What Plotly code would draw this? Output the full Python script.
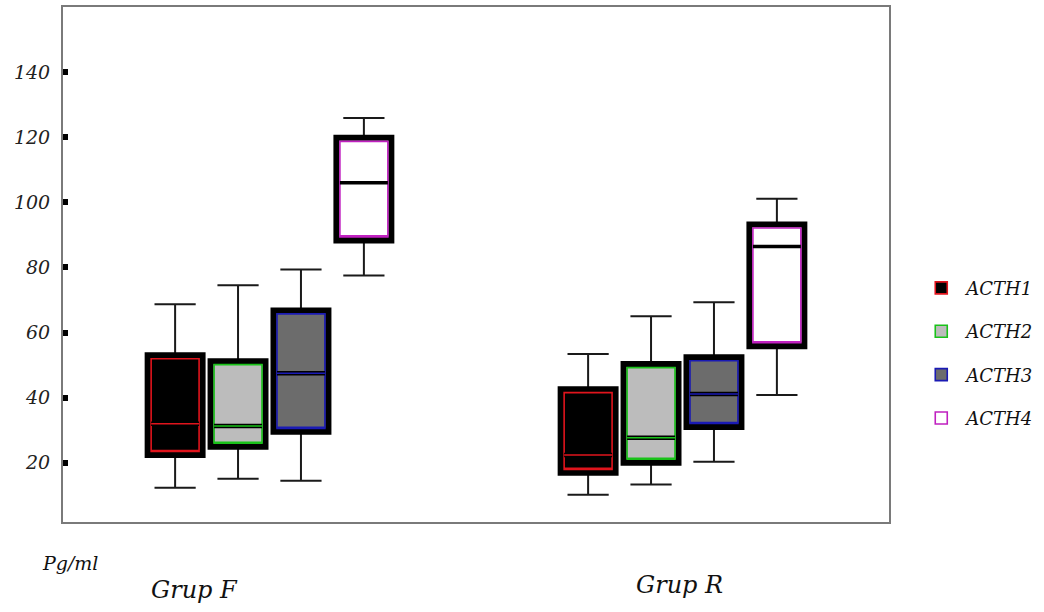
import plotly.graph_objects as go

groups = ["Grup F", "Grup R"]
series = ["ACTH1", "ACTH2", "ACTH3", "ACTH4"]

lower = {"ACTH1": [12.3, 10.2], "ACTH2": [15.1, 13.3], "ACTH3": [14.5, 20.3], "ACTH4": [77.5, 40.8]}
q1 = {"ACTH1": [22.4, 16.9], "ACTH2": [24.9, 20.0], "ACTH3": [29.5, 31.0], "ACTH4": [88.3, 55.8]}
median = {"ACTH1": [32.0, 22.4], "ACTH2": [31.3, 27.7], "ACTH3": [47.5, 41.1], "ACTH4": [106.0, 86.4]}
q3 = {"ACTH1": [53.0, 42.6], "ACTH2": [51.2, 50.3], "ACTH3": [66.8, 52.4], "ACTH4": [119.8, 93.2]}
upper = {"ACTH1": [68.7, 53.4], "ACTH2": [74.5, 65.0], "ACTH3": [79.4, 69.3], "ACTH4": [125.9, 101.1]}

y_ticks = [20, 40, 60, 80, 100, 120, 140]

fills = {"ACTH1": "#000000", "ACTH2": "#bcbcbc", "ACTH3": "#6c6c6c", "ACTH4": "#ffffff"}
edges = {"ACTH1": "#e0141c", "ACTH2": "#19c219", "ACTH3": "#1a1ab4", "ACTH4": "#c020c0"}
colored_median = {"ACTH1": True, "ACTH2": True, "ACTH3": True, "ACTH4": False}

# ---- layout geometry ----
W, H = 1044, 612
ML, MR, MT, MB = 63, 154, 5, 90
PW, PH = W - ML - MR, H - MT - MB
XR = [-0.5, 1.5]
YR = [1.8, 160]
ux = (XR[1] - XR[0]) / PW          # data units per px (x)
uy = (YR[1] - YR[0]) / PH          # data units per px (y)

slot = 63 * ux                     # spacing between boxes in a group
box_w = 55 * ux                    # box path width
inset_px = 3.5
inner_w = box_w - 2 * inset_px * ux
dy = inset_px * uy

serif = "DejaVu Serif"
fig = go.Figure()


def positions(k):
    off = (k - (len(series) - 1) / 2) * slot
    return [i + off for i in range(len(groups))]


for k, s in enumerate(series):
    xs = positions(k)
    # whiskers (thin black)
    fig.add_trace(go.Box(
        x=xs, q1=q1[s], median=median[s], q3=q3[s],
        lowerfence=lower[s], upperfence=upper[s],
        width=box_w, name=s, showlegend=False,
        line=dict(color="#1a1a1a", width=2), fillcolor="rgba(0,0,0,0)",
        whiskerwidth=0.75, hoverinfo="skip",
    ))

for k, s in enumerate(series):
    xs = positions(k)
    # thick black box outline with fill
    fig.add_trace(go.Box(
        x=xs, q1=q1[s], median=q1[s], q3=q3[s],
        lowerfence=q1[s], upperfence=q3[s],
        width=box_w, name=s, showlegend=False,
        line=dict(color="#000000", width=6), fillcolor=fills[s],
        whiskerwidth=0, hoverinfo="skip",
    ))

for k, s in enumerate(series):
    xs = positions(k)
    iq1 = [v + dy for v in q1[s]]
    iq3 = [v - dy for v in q3[s]]
    # coloured inner outline (legend entry)
    fig.add_trace(go.Box(
        x=xs, q1=iq1, median=iq1, q3=iq3,
        lowerfence=iq1, upperfence=iq3,
        width=inner_w, name=s, showlegend=True, legendgroup=s,
        line=dict(color=edges[s], width=1.6), fillcolor=fills[s],
        whiskerwidth=0,
    ))

for k, s in enumerate(series):
    xs = positions(k)
    # black median band
    fig.add_trace(go.Box(
        x=xs, q1=median[s], median=median[s], q3=median[s],
        lowerfence=median[s], upperfence=median[s],
        width=inner_w, name=s, showlegend=False,
        line=dict(color="#000000", width=4.5 if colored_median[s] else 3.5),
        fillcolor="rgba(0,0,0,0)", whiskerwidth=0, hoverinfo="skip",
    ))
    if colored_median[s]:
        fig.add_trace(go.Box(
            x=xs, q1=median[s], median=median[s], q3=median[s],
            lowerfence=median[s], upperfence=median[s],
            width=inner_w, name=s, showlegend=False,
            line=dict(color=edges[s], width=1.5),
            fillcolor="rgba(0,0,0,0)", whiskerwidth=0, hoverinfo="skip",
        ))

fig.update_layout(
    width=W, height=H,
    margin=dict(l=ML, r=MR, t=MT, b=MB),
    paper_bgcolor="white", plot_bgcolor="white",
    boxmode="overlay",
    font=dict(family=serif, size=16, color="#222222"),
    legend=dict(
        x=1.033, y=0.49, xanchor="left", yanchor="top",
        font=dict(family=serif, size=18, style="italic", color="#111111"),
        tracegroupgap=17, itemwidth=40, bgcolor="rgba(0,0,0,0)",
    ),
    xaxis=dict(
        range=XR, showticklabels=False,
        showline=True, linecolor="#7a7a7a", linewidth=2, mirror=True,
        ticks="", showgrid=False, zeroline=False,
    ),
    yaxis=dict(
        range=YR, tickmode="array", tickvals=y_ticks,
        ticktext=[str(v) for v in y_ticks],
        showline=True, linecolor="#7a7a7a", linewidth=2, mirror=True,
        ticks="inside", ticklen=5, tickwidth=6, tickcolor="#000000",
        tickfont=dict(family=serif, size=19, style="italic", color="#222222"),
        ticklabelstandoff=7,
        showgrid=False, zeroline=False,
    ),
    showlegend=True,
)

fig.add_annotation(text="Pg/ml", xref="paper", yref="paper", x=(70 - ML) / PW, y=(H - MB - 563) / PH,
                   xanchor="center", yanchor="middle",
                   showarrow=False, font=dict(family=serif, size=19, style="italic", color="#111111"))
fig.add_annotation(text=groups[0], xref="paper", yref="paper", x=(195 - ML) / PW, y=(H - MB - 590) / PH,
                   xanchor="center", yanchor="middle",
                   showarrow=False, font=dict(family=serif, size=24, style="italic", color="#111111"))
fig.add_annotation(text=groups[1], xref="paper", yref="paper", x=(680 - ML) / PW, y=(H - MB - 585) / PH,
                   xanchor="center", yanchor="middle",
                   showarrow=False, font=dict(family=serif, size=24, style="italic", color="#111111"))

fig.write_html("out.html", config={"displayModeBar": False},
               post_script="document.body.style.margin='0px';")
